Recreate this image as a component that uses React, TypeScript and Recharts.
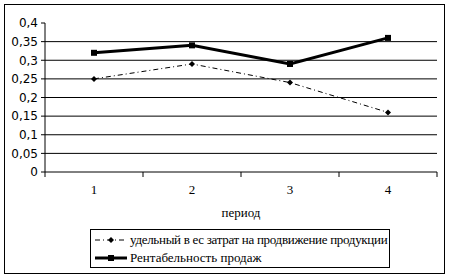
import { LineChart, Line, XAxis, YAxis, ReferenceLine, Legend } from "recharts";

const periods = [1, 2, 3, 4];
const costShare = [0.25, 0.29, 0.24, 0.16];
const salesProfitability = [0.32, 0.34, 0.29, 0.36];
const yTicks = [0, 0.05, 0.1, 0.15, 0.2, 0.25, 0.3, 0.35, 0.4];
const gridValues = [0.05, 0.1, 0.15, 0.2, 0.25, 0.3, 0.35];
const bandEdges = [0.5, 1.5, 2.5, 3.5, 4.5];
const costShareName = "удельный в ес затрат на продвижение продукции";
const profitabilityName = "Рентабельность продаж";

const data = periods.map((p, i) => ({
  period: p,
  costShare: costShare[i],
  profitability: salesProfitability[i],
}));

const serif = "'Liberation Serif', 'Times New Roman', serif";
const sans = "'DejaVu Sans', 'Liberation Sans', sans-serif";

function Diamond(props: { cx?: number; cy?: number }) {
  const { cx, cy } = props;
  if (cx == null || cy == null) return null;
  return (
    <path
      d={`M${cx},${cy - 3} L${cx + 3},${cy} L${cx},${cy + 3} L${cx - 3},${cy} Z`}
      fill="#000"
    />
  );
}

function Square(props: { cx?: number; cy?: number }) {
  const { cx, cy } = props;
  if (cx == null || cy == null) return null;
  return <rect x={cx - 3} y={cy - 3} width={6} height={6} fill="#000" />;
}

function LegendBox() {
  return (
    <div
      style={{
        border: "1px solid #000",
        width: 298,
        height: 37,
        boxSizing: "content-box",
        fontFamily: serif,
        fontSize: 13,
        color: "#000",
      }}
    >
      <div style={{ display: "flex", alignItems: "center", height: 19 }}>
        <svg width={36} height={10} style={{ marginLeft: 3 }}>
          <line x1={1} y1={5} x2={33} y2={5} stroke="#000" strokeWidth={1} strokeDasharray="5 3 1 3" />
          <Diamond cx={17} cy={5} />
        </svg>
        <span style={{ whiteSpace: "nowrap", letterSpacing: -0.3 }}>{costShareName}</span>
      </div>
      <div style={{ display: "flex", alignItems: "center", height: 18 }}>
        <svg width={36} height={10} style={{ marginLeft: 3 }}>
          <line x1={1} y1={5} x2={33} y2={5} stroke="#000" strokeWidth={3} />
          <Square cx={17} cy={5} />
        </svg>
        <span style={{ whiteSpace: "nowrap" }}>{profitabilityName}</span>
      </div>
    </div>
  );
}

export default function App() {
  return (
    <div style={{ position: "absolute", left: 0, top: 0, width: 449, height: 278, background: "#fff" }}>
      <div
        style={{
          position: "absolute",
          left: 4,
          top: 4,
          width: 439,
          height: 268,
          border: "1px solid #000",
        }}
      />
      <div style={{ position: "absolute", left: 0, top: 0 }}>
        <LineChart width={449} height={278} data={data} margin={{ top: 23, right: 12, bottom: 0, left: 0 }}>
          {gridValues.map((v) => (
            <ReferenceLine key={v} y={v} stroke="#000" strokeWidth={1} />
          ))}
          <YAxis
            domain={[0, 0.4]}
            ticks={yTicks}
            width={45}
            tickSize={4}
            tickMargin={3}
            stroke="#000"
            tick={{ fill: "#000", fontSize: 12, fontFamily: sans }}
            tickFormatter={(v: number) => String(v).replace(".", ",")}
            interval={0}
          />
          <XAxis
            xAxisId={0}
            dataKey="period"
            type="number"
            domain={[0.5, 4.5]}
            ticks={bandEdges}
            interval={0}
            height={6}
            tickSize={5}
            stroke="#000"
            tick={{ fill: "none", fontSize: 1 }}
            tickFormatter={() => ""}
          />
          <XAxis
            xAxisId="labels"
            dataKey="period"
            type="number"
            domain={[0.5, 4.5]}
            ticks={periods}
            interval={0}
            height={100}
            axisLine={false}
            tickLine={false}
            tickMargin={1}
            tick={{ fill: "#000", fontSize: 13, fontFamily: serif }}
            label={{
              value: "период",
              position: "insideTop",
              offset: 30,
              fill: "#000",
              fontSize: 13,
              fontFamily: serif,
            }}
          />
          <Legend
            layout="horizontal"
            verticalAlign="middle"
            align="center"
            content={() => <LegendBox />}
            wrapperStyle={{ position: "absolute", left: 90, top: 229, width: 300, height: 39 }}
          />
          <Line
            dataKey="costShare"
            name={costShareName}
            stroke="#000"
            strokeWidth={1}
            strokeDasharray="5 3 1 3"
            dot={<Diamond />}
            isAnimationActive={false}
          />
          <Line
            dataKey="profitability"
            name={profitabilityName}
            stroke="#000"
            strokeWidth={3}
            dot={<Square />}
            isAnimationActive={false}
          />
        </LineChart>
      </div>
    </div>
  );
}
